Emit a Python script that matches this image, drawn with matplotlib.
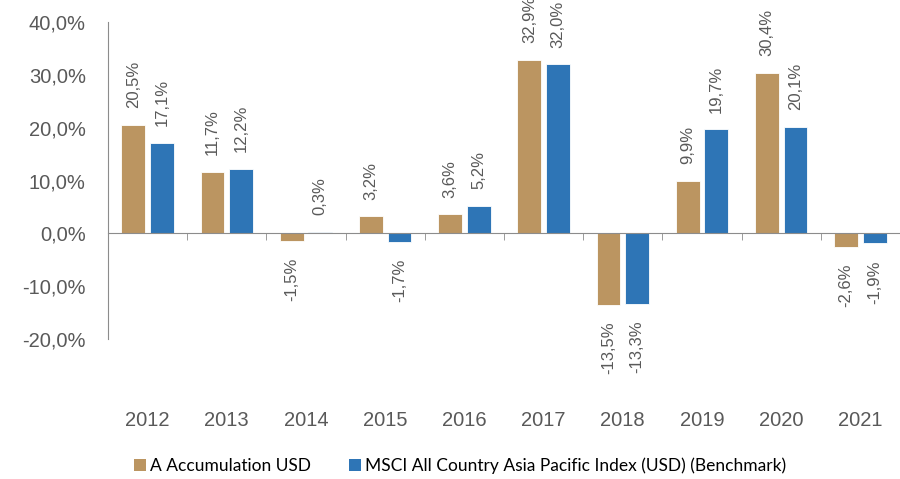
import numpy as np
import matplotlib
matplotlib.use('Agg')
import matplotlib.pyplot as plt
from matplotlib.patches import Patch

plt.rcParams['font.family'] = ['Liberation Sans', 'DejaVu Sans']

years = ['2012', '2013', '2014', '2015', '2016', '2017', '2018', '2019', '2020', '2021']
fund = [20.5, 11.7, -1.5, 3.2, 3.6, 32.9, -13.5, 9.9, 30.4, -2.6]
bench = [17.1, 12.2, 0.3, -1.7, 5.2, 32.0, -13.3, 19.7, 20.1, -1.9]
names = ['A Accumulation USD', 'MSCI All Country Asia Pacific Index (USD) (Benchmark)']
colors = ['#BB9561', '#2E75B6']

txt_gray = '#595959'
axis_gray = '#8C8C8C'

fig = plt.figure(figsize=(9, 4.79), dpi=100)
ax = fig.add_axes([0.12, 0.2923, 0.88, 0.6617])

x = np.arange(len(years))
w = 0.3
off = 0.18

for vals, dx, c in [(fund, -off, colors[0]), (bench, off, colors[1])]:
    bars = ax.bar(x + dx, vals, width=w, color=c, edgecolor='white', linewidth=0.6, zorder=2)
    for xi, v in zip(x + dx, vals):
        lab = ('%.1f' % v).replace('.', ',') + '%'
        if v >= 0:
            ax.annotate(lab, (xi, v), xytext=(0, 12), textcoords='offset points',
                        rotation=90, ha='center', va='bottom', fontsize=12, color=txt_gray)
        else:
            ax.annotate(lab, (xi, v), xytext=(0, -12), textcoords='offset points',
                        rotation=90, ha='center', va='top', fontsize=12, color=txt_gray)

ax.set_ylim(-20, 40)
ax.set_xlim(-0.5, 9.4)
ax.set_yticks(range(-20, 41, 10))
ax.set_yticklabels([('%.1f' % t).replace('.', ',') + '%' for t in range(-20, 41, 10)],
                   fontsize=14.5, color=txt_gray)
ax.tick_params(axis='y', length=0, pad=16)

ax.spines['top'].set_visible(False)
ax.spines['right'].set_visible(False)
ax.spines['left'].set_color(axis_gray)
ax.spines['bottom'].set_color(axis_gray)
ax.spines['bottom'].set_position(('data', 0))
ax.spines['bottom'].set_zorder(3)

ax.set_xticks(x)
ax.set_xticklabels(years, fontsize=14.5, color=txt_gray)
ax.set_xticks(np.arange(-0.5, 10, 1), minor=True)
ax.tick_params(axis='x', which='major', length=0, pad=128)
ax.tick_params(axis='x', which='minor', length=5, color=axis_gray, direction='out')

handles = [Patch(facecolor=c, edgecolor='none') for c in colors]
fig.legend(handles, names, loc='center', bbox_to_anchor=(0.511, 0.027), ncol=2, frameon=False,
           prop={'family': 'Lato', 'size': 12.5}, handlelength=0.7, handleheight=0.7,
           handletextpad=0.2, columnspacing=2.2)

fig.savefig('out.png', dpi=100)
